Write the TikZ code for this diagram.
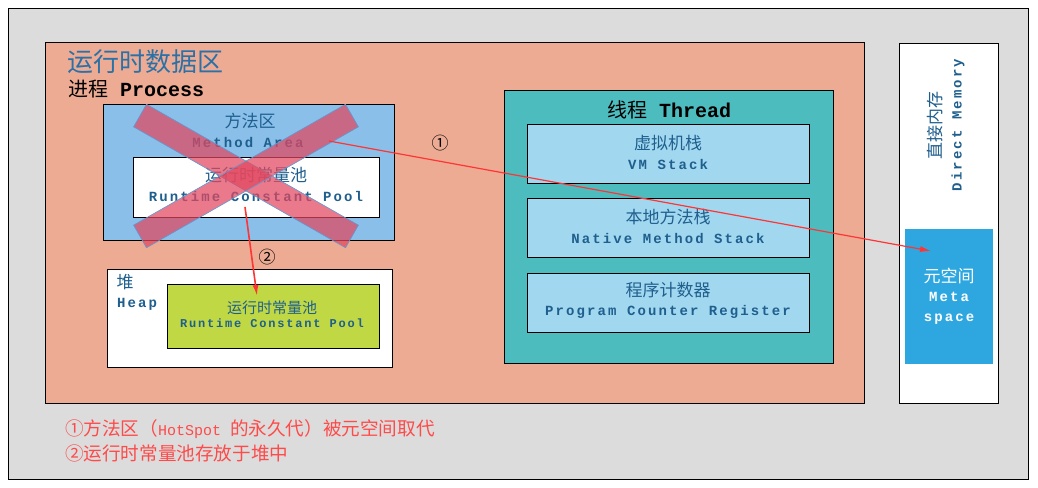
\documentclass[tikz,border=0pt]{standalone}
\usepackage{fontspec}
\setmainfont{Noto Sans CJK SC}
\setmonofont[LetterSpace=15]{Liberation Mono}
\newfontfamily\plainmono{Liberation Mono}
\usetikzlibrary{arrows.meta}
\definecolor{bgGray}{HTML}{DCDCDC}
\definecolor{areaSalmon}{HTML}{EDAB93}
\definecolor{methodBlue}{HTML}{89BFE9}
\definecolor{poolGreen}{HTML}{BFD843}
\definecolor{threadTeal}{HTML}{4DBCBF}
\definecolor{stackBlue}{HTML}{A2D8EF}
\definecolor{metaBlue}{HTML}{2EA7E0}
\definecolor{textBlue}{HTML}{1F5F8E}
\definecolor{titleBlue}{HTML}{2A71A8}
\definecolor{crossRed}{HTML}{E2475F}
\definecolor{crossEdge}{HTML}{5B9BD5}
\definecolor{noteRed}{HTML}{FF4A4A}
\definecolor{arrowRed}{HTML}{FF3535}

\begin{document}
\begin{tikzpicture}[x=1pt, y=-1pt,
        every node/.append style={inner sep=0pt},
        every rectangle node/.append style={outer sep=0pt}]
      \tikzstyle{box} = [draw=black, line width=0.8pt, anchor=north west]
      \tikzstyle{zh} = [font=\fontsize{17}{19}\selectfont, text=textBlue]
      \tikzstyle{en} = [font=\fontsize{14}{16}\selectfont\bfseries\ttfamily, text=textBlue]
      \tikzstyle{cross} = [fill=crossRed, fill opacity=0.72, draw=crossEdge, line width=0.6pt,
        minimum width=244pt, minimum height=26pt]
      \tikzstyle{redarrow} = [draw=arrowRed, line width=1.6pt, -{Latex[length=11pt,width=6pt]}]
      \tikzstyle{note} = [anchor=west, text=noteRed, font=\fontsize{18.6}{21}\selectfont]
      \fill[white] (0,0) rectangle (1038,487);
      \useasboundingbox (0,0) rectangle (1038,487);
      \node[box, fill=bgGray, minimum width=1020pt, minimum height=471pt] (outer) at (8,8) {};
      \node[box, fill=areaSalmon, minimum width=819pt, minimum height=361pt] (runtime) at (45,42) {};
      \node[anchor=west, font=\fontsize{26}{28}\selectfont, text=titleBlue] (runtimeTitle) at (67,62) {运行时数据区};
      \node[anchor=west, font=\fontsize{20}{22}\selectfont] (process) at (68,89) {进程\hspace{12pt}{\plainmono\bfseries Process}};
      \node[box, fill=methodBlue, minimum width=291pt, minimum height=136pt] (method) at (103,104) {};
      \node[box, fill=white, minimum width=246pt, minimum height=60pt] (pool) at (133,157) {};
      \node[zh] (methodZh) at (250,121) {方法区};
      \node[en] (methodEn) at (248,142) {Method Area};
      \node[zh] (poolZh) at (256,175) {运行时常量池};
      \node[en] (poolEn) at (256,196) {Runtime Constant Pool};
      \node[cross, rotate=-29.7] (crossA) at (246,176) {};
      \node[cross, rotate=29.7] (crossB) at (246,176) {};
      \node[box, fill=white, minimum width=285pt, minimum height=98pt] (heap) at (107,269) {};
      \node[box, fill=poolGreen, minimum width=212pt, minimum height=64pt] (heapPool) at (167,284) {};
      \node[zh] (heapZh) at (125,282) {堆};
      \node[en] (heapEn) at (137,304) {Heap};
      \node[zh, font=\fontsize{15}{17}\selectfont] (heapPoolZh) at (272,308) {运行时常量池};
      \node[en, font=\fontsize{12}{14}\selectfont\bfseries\ttfamily] (heapPoolEn) at (272,323) {Runtime Constant Pool};
      \node[box, fill=threadTeal, minimum width=329pt, minimum height=273pt] (thread) at (504,90) {};
      \node[font=\fontsize{20}{22}\selectfont] (threadTitle) at (669,110) {线程\hspace{12pt}{\plainmono\bfseries Thread}};
      \node[box, fill=stackBlue, minimum width=282pt, minimum height=59pt] (vmStack) at (527,124) {};
      \node[zh] (vmStackZh) at (668,143) {虚拟机栈};
      \node[en] (vmStackEn) at (668,164) {VM Stack};
      \node[box, fill=stackBlue, minimum width=282pt, minimum height=59pt] (nativeStack) at (527,198) {};
      \node[zh] (nativeStackZh) at (668,217) {本地方法栈};
      \node[en] (nativeStackEn) at (668,238) {Native Method Stack};
      \node[box, fill=stackBlue, minimum width=282pt, minimum height=59pt] (pcReg) at (527,273) {};
      \node[zh] (pcRegZh) at (668,290) {程序计数器};
      \node[en] (pcRegEn) at (668,312) {Program Counter Register};
      \node[box, fill=white, minimum width=99pt, minimum height=360pt] (direct) at (899,43) {};
      \node[zh, rotate=90] (directZh) at (935,125) {直接内存};
      \node[en, rotate=90] (directEn) at (958,125) {Direct Memory};
      \node[box, draw=none, fill=metaBlue, minimum width=88pt, minimum height=135pt] (meta) at (905,229) {};
      \node[zh, text=white] (metaZh) at (949,276) {元空间};
      \node[en, text=white] (metaEnA) at (949,297) {Meta};
      \node[en, text=white] (metaEnB) at (949,319) {space};
      \coordinate (fromMethod) at (329,141);
      \coordinate (metaTip) at (931,251);
      \coordinate (fromPool) at (245,207);
      \coordinate (poolTip) at (257,296);
      \draw[redarrow, line width=1.2pt] (fromMethod) -- (metaTip);
      \draw[redarrow] (fromPool) -- (poolTip);
      \node[font=\fontsize{17}{19}\selectfont] (markOne) at (440,143) {①};
      \node[font=\fontsize{17}{19}\selectfont] (markTwo) at (267,257) {②};
      \node[note] (noteOne) at (65,429) {①方法区（{\fontsize{15}{18}\selectfont\plainmono HotSpot}\hspace{9pt}的永久代）被元空间取代};
      \node[note] (noteTwo) at (65,453) {②运行时常量池存放于堆中};
    \end{tikzpicture}
\end{document}
